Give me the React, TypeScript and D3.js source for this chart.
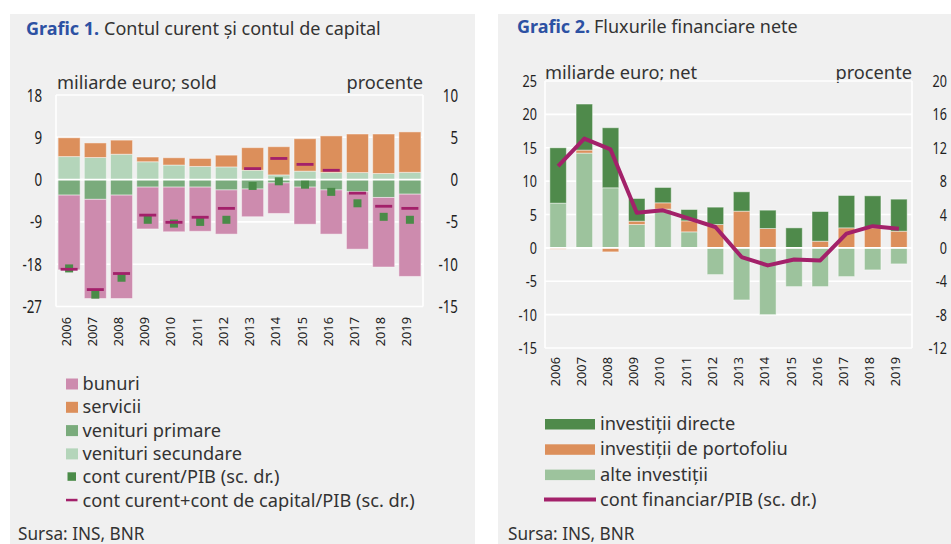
import React from 'react';
import * as d3 from 'd3';

const years = ['2006','2007','2008','2009','2010','2011','2012','2013','2014','2015','2016','2017','2018','2019'];

// Grafic 1 (miliarde euro)
const bunuri = [-15.9, -21.1, -22.0, -8.9, -9.5, -9.4, -9.4, -5.9, -6.5, -7.9, -9.4, -12.2, -14.8, -17.5];
const servicii = [4.0, 3.1, 3.0, 1.0, 1.55, 1.7, 2.5, 4.8, 6.0, 6.9, 7.8, 8.2, 8.4, 8.6];
const venituriPrimare = [-3.3, -4.2, -3.3, -1.6, -1.6, -1.6, -2.2, -2.0, -0.7, -1.6, -2.2, -2.6, -3.8, -3.1];
const venituriSecundare = [4.9, 4.7, 5.4, 3.8, 3.1, 2.8, 2.7, 2.0, 1.0, 1.8, 1.5, 1.5, 1.3, 1.55];
// procente (sc. dr.)
const contCurentPIB = [-10.5, -13.6, -11.6, -4.75, -5.2, -5.0, -4.75, -0.75, -0.2, -0.6, -1.45, -2.8, -4.4, -4.75];
const contCurentCapitalPIB = [-10.6, -13.0, -11.1, -4.2, -5.05, -4.45, -3.4, 1.3, 2.5, 1.8, 1.1, -1.6, -3.15, -3.4];

const ticks1Left = [18, 9, 0, -9, -18, -27];
const ticks1Right = [10, 5, 0, -5, -10, -15];

// Grafic 2 (miliarde euro)
const investitiiDirecte = [8.3, 6.9, 9.0, 3.4, 2.3, 1.7, 2.6, 2.9, 2.75, 3.0, 4.45, 4.85, 4.8, 4.8];
const investitiiPortofoliu = [-0.2, 0.45, -0.6, 0.5, 0.95, 1.65, 3.5, 5.5, 2.9, 0, 1.0, 3.0, 3.0, 2.5];
const alteInvestitii = [6.7, 14.2, 9.0, 3.5, 5.8, 2.4, -4.0, -7.8, -10.0, -5.8, -5.8, -4.3, -3.3, -2.4];
// procente (sc. dr.)
const contFinanciarPIB = [9.8, 13.1, 11.8, 4.2, 4.5, 3.5, 2.5, -1.1, -2.1, -1.4, -1.5, 1.7, 2.6, 2.3];

const ticks2Left = [25, 20, 15, 10, 5, 0, -5, -10, -15];
const ticks2Right = [20, 16, 12, 8, 4, 0, -4, -8, -12];

const C = {
  bunuri: '#cd8bae',
  servicii: '#dc8f5b',
  primare: '#7aab7c',
  secundare: '#b4d5ba',
  square: '#4a8b48',
  dash: '#a3206a',
  directe: '#4f8a4b',
  portofoliu: '#dc8f5b',
  alte: '#9dc39d',
  line: '#a3216a',
  panel: '#f0f0f0',
  text: '#333333',
  blue: '#2c51a3',
};

const FONT = "'Noto Sans', 'Open Sans', sans-serif";

function T(props: any) {
  const { x, y, sx = 1, size = 16, anchor = 'start', fill = C.text, weight = 400, rotate = 0, children } = props;
  const tr = `translate(${x},${y})${rotate ? ` rotate(${rotate})` : ''} scale(${sx},1)`;
  return (
    <text transform={tr} fontSize={size} fontFamily={FONT} textAnchor={anchor} fill={fill} fontWeight={weight}>
      {children}
    </text>
  );
}

const LS = 18.5; // legend font size
const LX = 0.985; // legend horizontal scale

function Chart1() {
  const x = d3.scaleBand<string>().domain(years).range([56, 423]).paddingInner(0.16).paddingOuter(0.08);
  const y = d3.scaleLinear().domain([-27, 18]).range([306.5, 95]);
  const yr = d3.scaleLinear().domain([-15, 10]).range([306.5, 95]);
  const rows = years.map((yr_, i) => ({
    year: yr_, secundare: venituriSecundare[i], primare: venituriPrimare[i], servicii: servicii[i], bunuri: bunuri[i],
  }));
  const keys = ['secundare', 'primare', 'servicii', 'bunuri'];
  const colors: any = { secundare: C.secundare, primare: C.primare, servicii: C.servicii, bunuri: C.bunuri };
  const series = d3.stack<any>().keys(keys).offset(d3.stackOffsetDiverging)(rows);
  const [x0, x1] = x.range();
  return (
    <g>
      <rect x={10} y={14} width={465} height={540} fill={C.panel} />
      <T x={26} y={35} size={18} sx={1} fill={C.blue} weight={700}>Grafic 1.</T>
      <T x={104} y={35} size={18} sx={1}>Contul curent și contul de capital</T>
      <T x={57} y={89} size={LS} sx={LX}>miliarde euro; sold</T>
      <T x={423} y={89} size={LS} sx={LX} anchor="end">procente</T>
      {ticks1Left.map(t => (
        <line key={'g' + t} x1={x0} x2={x1} y1={y(t)} y2={y(t)} stroke="#fff" strokeWidth={1.6} />
      ))}
      <line x1={x0} x2={x0} y1={y(18)} y2={y(-27)} stroke="#fff" strokeWidth={1.6} />
      <line x1={x1} x2={x1} y1={y(18)} y2={y(-27)} stroke="#fff" strokeWidth={1.6} />
      {series.map(s => (
        <g key={s.key} fill={colors[s.key]}>
          {s.map((d: any, i: number) => (
            <rect key={i} x={x(years[i])} width={x.bandwidth()} y={y(Math.max(d[0], d[1]))}
              height={Math.abs(y(d[0]) - y(d[1]))} stroke="#ffffff" strokeOpacity={0.45} strokeWidth={1} />
          ))}
        </g>
      ))}
      <line x1={x0} x2={x1} y1={y(0)} y2={y(0)} stroke="#fff" strokeWidth={1.8} />
      {contCurentPIB.map((v, i) => (
        <rect key={'sq' + i} x={(x(years[i]) as number) + x.bandwidth() / 2 - 4} y={yr(v) - 4} width={8} height={8} fill={C.square} />
      ))}
      {contCurentCapitalPIB.map((v, i) => (
        <rect key={'ds' + i} x={(x(years[i]) as number) + x.bandwidth() / 2 - 8.5} y={yr(v) - 1.4} width={17} height={2.8} fill={C.dash} />
      ))}
      {ticks1Left.map(t => (
        <T key={'l' + t} x={42} y={y(t) + 6.5} size={18} sx={0.74} fill="#222" anchor="end">{String(t)}</T>
      ))}
      {ticks1Right.map(t => (
        <T key={'r' + t} x={458} y={yr(t) + 6.5} size={18} sx={0.74} fill="#222" anchor="end">{String(t)}</T>
      ))}
      {years.map(yy => (
        <T key={'x' + yy} x={(x(yy) as number) + x.bandwidth() / 2 + 1.5} y={317} size={12.8} rotate={-90} anchor="end" fill="#222">{yy}</T>
      ))}
      {/* legend */}
      {[
        ['bunuri', C.bunuri], ['servicii', C.servicii], ['venituri primare', C.primare], ['venituri secundare', C.secundare],
      ].map(([label, col], i) => (
        <g key={label}>
          <rect x={66} y={378.5 + i * 23.3} width={12} height={11} fill={col} />
          <T x={82.5} y={390 + i * 23.3} size={LS} sx={LX}>{label}</T>
        </g>
      ))}
      <rect x={67.5} y={472.3} width={8.5} height={8.5} fill={C.square} />
      <T x={82.5} y={483.2} size={LS} sx={LX}>cont curent/PIB (sc. dr.)</T>
      <rect x={66} y={498.8} width={11.5} height={2.5} fill={C.dash} />
      <T x={82.5} y={506.5} size={LS} sx={LX}>cont curent+cont de capital/PIB (sc. dr.)</T>
      <T x={18} y={540} size={LS} sx={0.93}>Sursa: INS, BNR</T>
    </g>
  );
}

function Chart2() {
  const x = d3.scaleBand<string>().domain(years).range([545, 912]).paddingInner(0.37).paddingOuter(0.185);
  const y = d3.scaleLinear().domain([-15, 25]).range([348, 81]);
  const yr = d3.scaleLinear().domain([-12, 20]).range([348, 81]);
  const rows = years.map((yy, i) => ({
    year: yy, alte: alteInvestitii[i], portofoliu: investitiiPortofoliu[i], directe: investitiiDirecte[i],
  }));
  const keys = ['alte', 'portofoliu', 'directe'];
  const colors: any = { alte: C.alte, portofoliu: C.portofoliu, directe: C.directe };
  const series = d3.stack<any>().keys(keys).offset(d3.stackOffsetDiverging)(rows);
  const [x0, x1] = x.range();
  const line = d3.line<number>()
    .x((_, i) => (x(years[i]) as number) + x.bandwidth() / 2)
    .y(v => yr(v));
  return (
    <g>
      <rect x={498} y={14} width={460} height={540} fill={C.panel} />
      <T x={517} y={33} size={18} sx={1} fill={C.blue} weight={700}>Grafic 2.</T>
      <T x={594} y={33} size={18} sx={1}>Fluxurile financiare nete</T>
      <T x={545} y={79} size={LS} sx={LX}>miliarde euro; net</T>
      <T x={912} y={79} size={LS} sx={LX} anchor="end">procente</T>
      {ticks2Left.map(t => (
        <line key={'g' + t} x1={x0} x2={x1} y1={y(t)} y2={y(t)} stroke="#fff" strokeWidth={1.6} />
      ))}
      <line x1={x0} x2={x0} y1={y(25)} y2={y(-15)} stroke="#fff" strokeWidth={1.6} />
      <line x1={x1} x2={x1} y1={y(25)} y2={y(-15)} stroke="#fff" strokeWidth={1.6} />
      {series.map(s => (
        <g key={s.key} fill={colors[s.key]}>
          {s.map((d: any, i: number) => (
            <rect key={i} x={x(years[i])} width={x.bandwidth()} y={y(Math.max(d[0], d[1]))}
              height={Math.abs(y(d[0]) - y(d[1]))} stroke="#ffffff" strokeOpacity={0.45} strokeWidth={1} />
          ))}
        </g>
      ))}
      <line x1={x0} x2={x1} y1={y(0)} y2={y(0)} stroke="#fff" strokeWidth={1.8} />
      <path d={line(contFinanciarPIB) || ''} fill="none" stroke={C.line} strokeWidth={4} strokeLinejoin="round" />
      {ticks2Left.map(t => (
        <T key={'l' + t} x={537} y={y(t) + 6} size={17} sx={0.74} fill="#222" anchor="end">{String(t)}</T>
      ))}
      {ticks2Right.map(t => (
        <T key={'r' + t} x={947} y={yr(t) + 6} size={17} sx={0.74} fill="#222" anchor="end">{String(t)}</T>
      ))}
      {years.map(yy => (
        <T key={'x' + yy} x={(x(yy) as number) + x.bandwidth() / 2 + 1.5} y={357} size={12.8} rotate={-90} anchor="end" fill="#222">{yy}</T>
      ))}
      {[
        ['investiții directe', C.directe], ['investiții de portofoliu', C.portofoliu], ['alte investiții', C.alte],
      ].map(([label, col], i) => (
        <g key={label}>
          <rect x={545} y={419 + i * 25.3} width={50} height={10.5} fill={col} />
          <T x={600} y={430 + i * 25.3} size={LS} sx={LX}>{label}</T>
        </g>
      ))}
      <line x1={544} x2={596} y1={499.5} y2={499.5} stroke={C.line} strokeWidth={4} />
      <T x={600} y={505.5} size={LS} sx={LX}>cont financiar/PIB (sc. dr.)</T>
      <T x={508} y={540} size={LS} sx={0.93}>Sursa: INS, BNR</T>
    </g>
  );
}

export default function App() {
  return (
    <svg width={951} height={544} style={{ position: 'absolute', left: 0, top: 0, background: '#fff' }}>
      <rect x={0} y={0} width={951} height={544} fill="#fff" />
      <Chart1 />
      <Chart2 />
    </svg>
  );
}
